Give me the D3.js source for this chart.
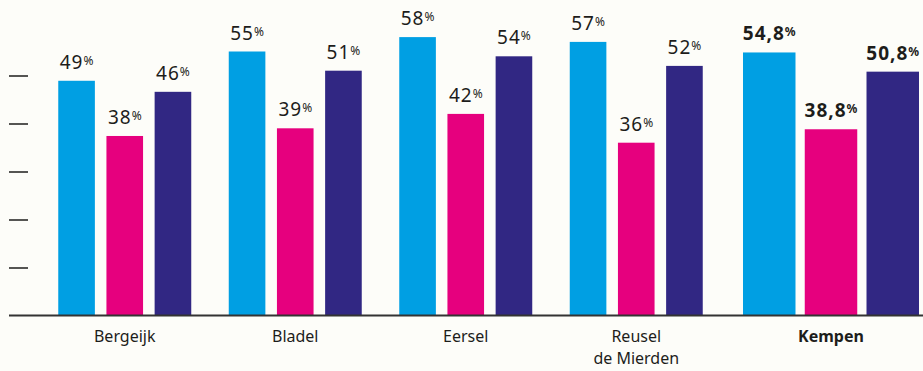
<!DOCTYPE html>
<html>
<head>
<meta charset="utf-8">
<script src="https://cdn.jsdelivr.net/npm/d3@7"></script>
<style>
  body { margin: 0; background: #fdfdf9; }
  svg { display: block; font-family: "Noto Sans", "Open Sans", sans-serif; }
  .tick line { stroke: #1d1d1b; stroke-width: 1.5; }
</style>
</head>
<body>
<div class="chart"></div>
<script>
// Gemeenten in de Kempen, drie reeksen per gemeente
var categories = ["Bergeijk", "Bladel", "Eersel", "Reusel de Mierden", "Kempen"];
// bar heights as drawn
var series1 = [48.9, 55, 58, 57, 54.8];
var series2 = [37.4, 39, 42, 36, 38.8];
var series3 = [46.6, 51, 54, 52, 50.8];
// labels as printed above the bars
var labels1 = ["49", "55", "58", "57", "54,8"];
var labels2 = ["38", "39", "42", "36", "38,8"];
var labels3 = ["46", "51", "54", "52", "50,8"];
var yTicks = [10, 20, 30, 40, 50];

var colors = ["#009fe3", "#e6007e", "#312783"];
var svgWidth = 923;
var svgHeight = 371;
var baseY = 315.5;

var svg = d3.select(".chart")
    .append("svg")
    .attr("width", svgWidth)
    .attr("height", svgHeight);

svg.append("rect").attr("width", svgWidth).attr("height", svgHeight).attr("fill", "#fdfdf9");

var yScale = d3.scaleLinear().domain([0, 50]).range([baseY, baseY - 240]);

// the four municipalities share one band scale, the Kempen total gets wider bars
var municipalities = categories.slice(0, 4);
var x0 = d3.scaleBand().domain(municipalities).range([39.5, 721.5]).paddingInner(0.22).paddingOuter(0.11);
var xTotal = d3.scaleBand().domain(["Kempen"]).range([743, 919]);

function groupBand(cat) {
    return cat === "Kempen" ? { x: xTotal(cat), w: xTotal.bandwidth() } : { x: x0(cat), w: x0.bandwidth() };
}

var data = categories.map(function(c, i) {
    return {
        cat: c,
        values: [series1[i], series2[i], series3[i]],
        labels: [labels1[i], labels2[i], labels3[i]]
    };
});

// y ticks without labels
var leftAxis = d3.axisLeft(yScale).tickValues(yTicks).tickSize(19).tickFormat("");
svg.append("g")
    .attr("transform", "translate(28,0)")
    .call(leftAxis)
    .call(function(g) { g.select(".domain").remove(); });

var groups = svg.selectAll(".group")
    .data(data)
    .enter()
    .append("g")
    .attr("class", "group");

groups.each(function(d) {
    var band = groupBand(d.cat);
    var gap = d.cat === "Kempen" ? 0.15 : 0.24;
    var x1 = d3.scaleBand().domain([0, 1, 2]).range([band.x, band.x + band.w]).paddingInner(gap);
    var g = d3.select(this);
    var bold = d.cat === "Kempen";

    g.selectAll("rect")
        .data(d.values)
        .enter()
        .append("rect")
        .attr("x", function(v, i) { return x1(i); })
        .attr("y", function(v) { return yScale(v); })
        .attr("width", x1.bandwidth())
        .attr("height", function(v) { return baseY - yScale(v); })
        .attr("fill", function(v, i) { return colors[i]; });

    var labels = g.selectAll("text.val")
        .data(d.values)
        .enter()
        .append("text")
        .attr("class", "val")
        .attr("x", function(v, i) { return x1(i) + x1.bandwidth() / 2; })
        .attr("y", function(v) { return yScale(v) - 12; })
        .attr("text-anchor", "middle")
        .attr("fill", "#1d1d1b")
        .style("font-weight", bold ? "bold" : "normal");
    labels.append("tspan")
        .style("font-size", "19px")
        .style("letter-spacing", "1px")
        .text(function(v, i) { return d.labels[i]; });
    labels.append("tspan")
        .style("font-size", "12px")
        .attr("dy", "-4")
        .text("%");

    var words = d.cat === "Reusel de Mierden" ? ["Reusel", "de Mierden"] : [d.cat];
    var lab = g.append("text")
        .attr("text-anchor", "middle")
        .attr("fill", "#1d1d1b")
        .style("font-size", "16px")
        .style("font-weight", bold ? "bold" : "normal");
    words.forEach(function(w, i) {
        lab.append("tspan")
            .attr("x", band.x + band.w / 2)
            .attr("y", 342 + i * 22)
            .text(w);
    });
});

// baseline
svg.append("line")
    .attr("x1", 9).attr("x2", svgWidth)
    .attr("y1", baseY).attr("y2", baseY)
    .attr("stroke", "#333")
    .attr("stroke-width", 2);
</script>
</body>
</html>
